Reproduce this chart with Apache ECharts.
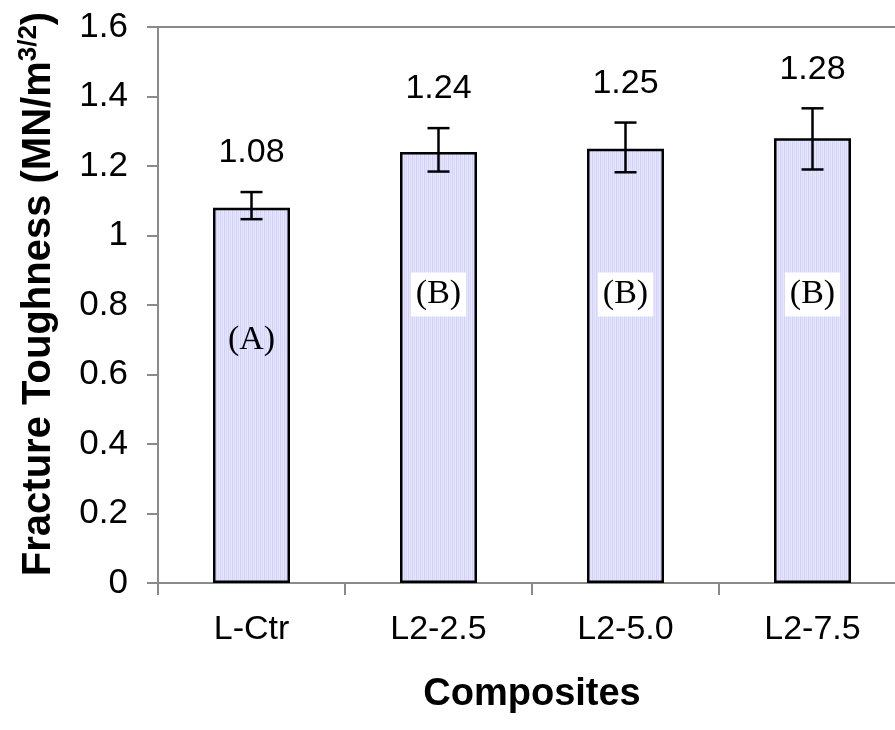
<!DOCTYPE html>
<html>
<head>
<meta charset="utf-8">
<script src="https://cdn.jsdelivr.net/npm/echarts@6/dist/echarts.min.js"></script>
<style>
html,body{margin:0;padding:0;background:#fff;}
#chart{width:895px;height:730px;}
</style>
</head>
<body>
<div id="chart"></div>
<script>
// ---- data ----
var categories = ['L-Ctr', 'L2-2.5', 'L2-5.0', 'L2-7.5'];
var toughness = [1.08, 1.24, 1.25, 1.28];
var errLow = [1.047, 1.184, 1.182, 1.19];
var errHigh = [1.125, 1.309, 1.325, 1.366];
var groupLetters = ['(A)', '(B)', '(B)', '(B)'];
var letterLevel = [0.70, 0.83, 0.83, 0.83];
var yTicks = { min: 0, max: 1.6, interval: 0.2 };

// stripe pattern for the bars
var pc = document.createElement('canvas');
pc.width = 4; pc.height = 4;
var pctx = pc.getContext('2d');
var stripes = ['#d2d2f7', '#e3e3ff', '#d9d9fb', '#e7e7ff'];
for (var s = 0; s < 4; s++) { pctx.fillStyle = stripes[s]; pctx.fillRect(s, 0, 1, 4); }

var chart = echarts.init(document.getElementById('chart'), null, { renderer: 'canvas' });

var errData = categories.map(function (c, i) { return [i, errLow[i], errHigh[i], toughness[i]]; });
var letterData = categories.map(function (c, i) { return [i, letterLevel[i], groupLetters[i]]; });

var option = {
  backgroundColor: '#ffffff',
  animation: false,
  grid: {
    left: 158, top: 27, width: 748, bottom: 147,
    containLabel: false,
    outerBoundsMode: 'none',
    show: true, borderColor: '#8a8a8a', borderWidth: 2, backgroundColor: 'transparent'
  },
  xAxis: {
    type: 'category',
    data: categories,
    boundaryGap: true,
    axisLine: { lineStyle: { color: '#8a8a8a', width: 2 } },
    axisTick: { show: true, length: 12, alignWithLabel: false, lineStyle: { color: '#8a8a8a', width: 2 } },
    axisLabel: { fontSize: 34, color: '#000', fontFamily: 'Liberation Sans', margin: 30 },
    name: 'Composites',
    nameLocation: 'middle',
    nameGap: 93,
    nameTextStyle: { fontSize: 38, fontWeight: 'bold', color: '#000', fontFamily: 'Liberation Sans' }
  },
  yAxis: {
    type: 'value',
    min: yTicks.min, max: yTicks.max, interval: yTicks.interval,
    splitLine: { show: false },
    axisLine: { show: true, lineStyle: { color: '#8a8a8a', width: 2 } },
    axisTick: { show: true, length: 11, lineStyle: { color: '#8a8a8a', width: 2 } },
    axisLabel: { fontSize: 35, color: '#000', fontFamily: 'Liberation Sans', margin: 30 },
    name: 'Fracture Toughness (MN/m{sup|3/2})',
    nameLocation: 'middle',
    nameRotate: 90,
    nameGap: 96,
    nameTextStyle: {
      fontSize: 40, fontWeight: 'bold', color: '#000', fontFamily: 'Liberation Sans',
      lineHeight: 46,
      padding: [0, 0, 0, 22],
      rich: {
        sup: { fontSize: 26, fontWeight: 'bold', color: '#000', fontFamily: 'Liberation Sans', verticalAlign: 'top', lineHeight: 46, padding: [0, 0, 24, 0] }
      }
    }
  },
  series: [
    {
      type: 'bar',
      data: toughness,
      barWidth: 77,
      itemStyle: {
        color: { image: pc, repeat: 'repeat' },
        borderColor: '#000', borderWidth: 2.5
      },
      z: 2
    },
    {
      type: 'custom',
      data: errData,
      z: 5,
      renderItem: function (params, api) {
        var x = api.coord([api.value(0), 0])[0];
        var lo = api.coord([api.value(0), api.value(1)])[1];
        var hi = api.coord([api.value(0), api.value(2)])[1];
        var hw = 11;
        var st = { stroke: '#000', lineWidth: 2.5 };
        return {
          type: 'group',
          children: [
            { type: 'line', shape: { x1: x, y1: lo, x2: x, y2: hi }, style: st },
            { type: 'line', shape: { x1: x - hw, y1: lo, x2: x + hw, y2: lo }, style: st },
            { type: 'line', shape: { x1: x - hw, y1: hi, x2: x + hw, y2: hi }, style: st },
            { type: 'text', x: x, y: hi - 39,
              style: { text: api.value(3).toFixed(2), fontSize: 34, fontFamily: 'Liberation Sans', fill: '#000', align: 'center', verticalAlign: 'middle' } }
          ]
        };
      }
    },
    {
      type: 'custom',
      data: letterData,
      z: 6,
      renderItem: function (params, api) {
        var p = api.coord([api.value(0), api.value(1)]);
        var txt = groupLetters[params.dataIndex];
        var boxed = txt !== '(A)';
        return {
          type: 'text', x: p[0], y: p[1],
          style: {
            text: txt, fontSize: 34, fontFamily: 'Liberation Serif', fill: '#000',
            align: 'center', verticalAlign: 'middle',
            backgroundColor: boxed ? '#ffffff' : 'transparent',
            padding: [4, 5, 4, 5], lineHeight: 36
          }
        };
      }
    }
  ]
};
chart.setOption(option);
</script>
</body>
</html>
